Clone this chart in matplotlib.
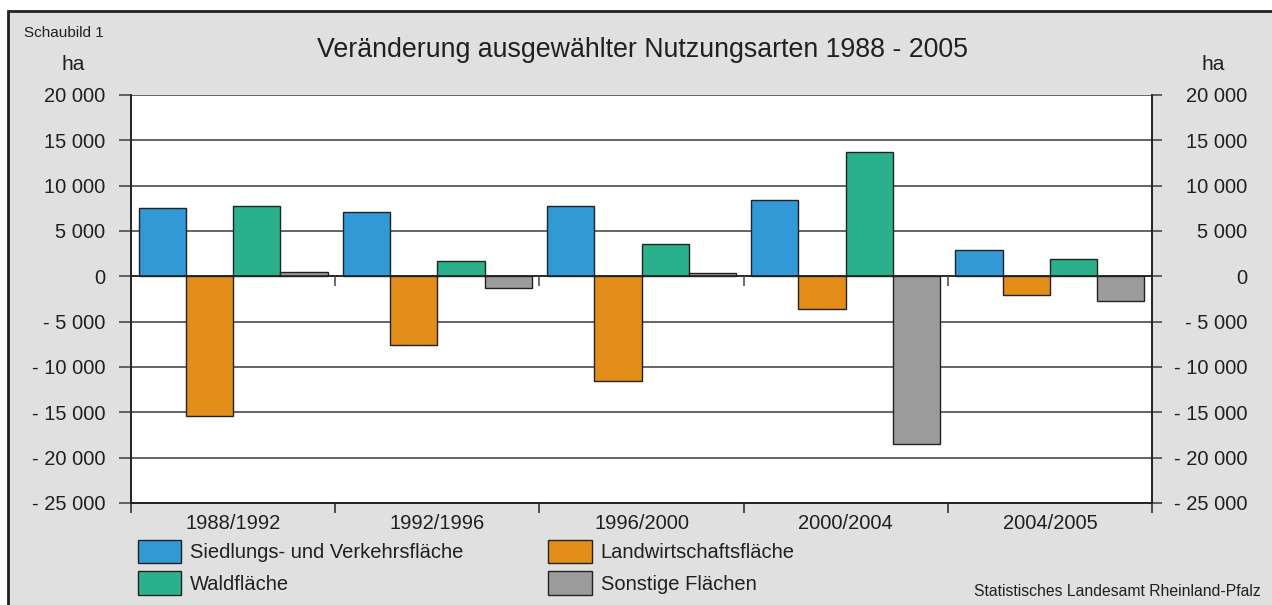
import matplotlib.pyplot as plt
from matplotlib.patches import Rectangle
from matplotlib.markers import TICKDOWN
import numpy as np

plt.rcParams['font.family'] = ['Liberation Sans', 'DejaVu Sans']

# Data (ha)
periods = ['1988/1992', '1992/1996', '1996/2000', '2000/2004', '2004/2005']
siedlung = [7530, 7090, 7750, 8380, 2930]
landwirtschaft = [-15400, -7600, -11550, -3570, -2060]
wald = [7750, 1650, 3560, 13670, 1870]
sonstige = [450, -1290, 400, -18490, -2760]

series_names = ['Siedlungs- und Verkehrsfläche', 'Landwirtschaftsfläche',
                'Waldfläche', 'Sonstige Flächen']
series_values = [siedlung, landwirtschaft, wald, sonstige]
colors = ['#3398d6', '#e38d1a', '#2bb08c', '#9c9c9c']

y_ticks = list(range(-25000, 20001, 5000))


def fmt(v):
    s = f'{abs(v):,}'.replace(',', ' ')
    return '- ' + s if v < 0 else s


txt = '#231f20'
grid_col = '#4a4a4a'
bg = '#e0e0e0'

fig = plt.figure(figsize=(12.72, 6.05), dpi=100)
fig.patch.set_facecolor('white')

# grey panel with frame (left and top edge visible)
fig.patches.append(Rectangle((8 / 1272, -0.05), 1.1, (1 - 11 / 605) + 0.05,
                             transform=fig.transFigure, facecolor=bg,
                             edgecolor='#222222', linewidth=2, zorder=-10))

ax = fig.add_axes([131 / 1272, 1 - 503 / 605, (1152 - 131) / 1272, (503 - 95) / 605])
ax.set_facecolor('white')

x = np.arange(len(periods)) + 0.5
w = 0.2315
bars = []
for i, (vals, col, name) in enumerate(zip(series_values, colors, series_names)):
    b = ax.bar(x + (i - 1.5) * w, vals, width=w, color=col, edgecolor='#222222',
               linewidth=1, label=name, zorder=3)
    bars.append(b)

ax.set_xlim(0, len(periods))
ax.set_ylim(-25000, 20000)

ax.set_yticks(y_ticks)
ax.set_yticklabels([fmt(v) for v in y_ticks])
ax.yaxis.grid(True, color=grid_col, linewidth=1.2, zorder=0)
ax.tick_params(axis='y', direction='out', length=8.5, width=1.2, color=grid_col,
               labelsize=14.5, labelcolor=txt, pad=10)

# right axis with right-aligned labels
ax2 = ax.twinx()
ax2.set_ylim(ax.get_ylim())
ax2.set_yticks(y_ticks)
ax2.set_yticklabels([fmt(v) for v in y_ticks])
ax2.tick_params(axis='y', direction='out', length=7.5, width=1.2, color=grid_col,
                labelsize=14.5, labelcolor=txt, pad=61)
for lbl in ax2.get_yticklabels():
    lbl.set_ha('right')

# category axis
ax.set_xticks(x)
ax.set_xticklabels(periods)
ax.set_xticks(np.arange(len(periods) + 1), minor=True)
ax.tick_params(axis='x', which='major', length=0, labelsize=14.5, labelcolor=txt, pad=8)
ax.tick_params(axis='x', which='minor', direction='out', length=7.5, width=1.1,
               color='#222222')

ax.axhline(0, color='#222222', linewidth=1.2, zorder=4)
ax.plot(np.arange(1, len(periods)), np.zeros(len(periods) - 1), linestyle='none',
        marker=TICKDOWN, markersize=7, markeredgewidth=1.1, color='#444444', zorder=4)

for a in (ax, ax2):
    for sp in a.spines.values():
        sp.set_color('#222222')
        sp.set_linewidth(1.2)
ax.spines['top'].set_visible(False)
ax2.spines['top'].set_visible(False)

# texts
fig.text(642 / 1272, 1 - 50 / 605, 'Veränderung ausgewählter Nutzungsarten 1988 - 2005',
         ha='center', va='center', fontsize=19.3, color=txt)
fig.text(64 / 1272, 1 - 33 / 605, 'Schaubild 1', ha='center', va='center',
         fontsize=11, color=txt)
fig.text(73 / 1272, 1 - 65 / 605, 'ha', ha='center', va='center', fontsize=15, color=txt)
fig.text(1213 / 1272, 1 - 65 / 605, 'ha', ha='center', va='center', fontsize=15, color=txt)
fig.text(1261 / 1272, 1 - 592 / 605, 'Statistisches Landesamt Rheinland-Pfalz',
         ha='right', va='center', fontsize=11.3, color=txt)

handles = [bars[0], bars[2], bars[1], bars[3]]
labels = [series_names[0], series_names[2], series_names[1], series_names[3]]
fig.legend(handles, labels, loc='upper left', bbox_to_anchor=(138 / 1272, 1 - 540 / 605),
           ncol=2, frameon=False, fontsize=14.5, borderpad=0, borderaxespad=0,
           handlelength=2.15, handleheight=1.4, handletextpad=0.45,
           labelspacing=0.4, columnspacing=4.2, labelcolor=txt)

fig.savefig('out.png', dpi=100, facecolor=fig.get_facecolor())
